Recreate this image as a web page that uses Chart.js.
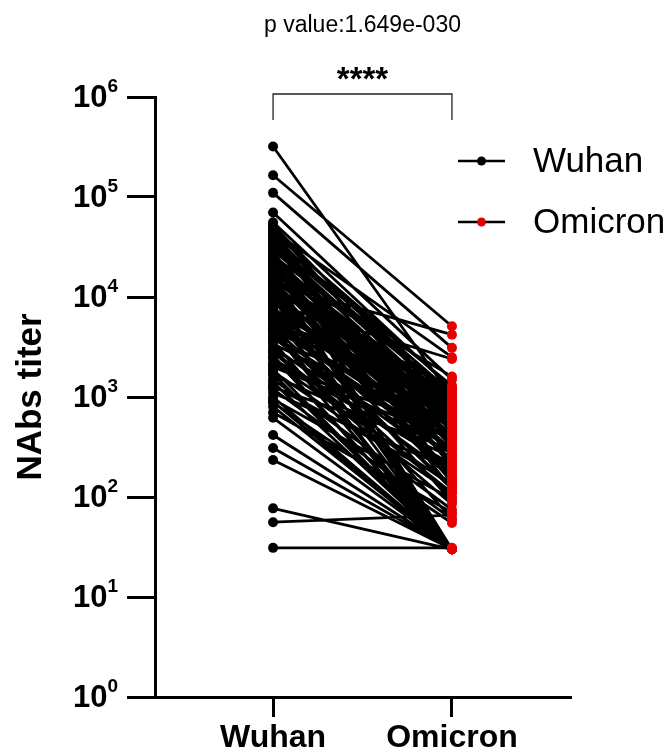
<!DOCTYPE html>
<html>
<head>
<meta charset="utf-8">
<script src="https://cdn.jsdelivr.net/npm/chart.js@4/dist/chart.umd.min.js"></script>
<style>
  html, body { margin: 0; padding: 0; background: #fff; }
  #wrap { width: 667px; height: 754px; }
</style>
</head>
<body>
<div id="wrap"><canvas id="nabs-chart"></canvas></div>
<script>
const categories = ['Wuhan', 'Omicron'];
const seriesNames = ['Wuhan', 'Omicron'];
const yTicks = [1, 10, 100, 1000, 10000, 100000, 1000000];
const pValueText = 'p value:1.649e-030';
const starsText = '****';
const yTitle = 'NAbs titer';

// paired titers, one entry per subject
const wuhan = [
  320000, 165000, 110000, 70000, 56000, 50000, 48000, 46000, 44000, 42000,
  39000, 37000, 36000, 34000, 33000, 31000, 30000, 29000, 27000, 26000,
  25000, 24000, 23000, 22000, 21000, 20500, 19500, 19000, 18000, 17500,
  17000, 16000, 15500, 15000, 14500, 14000, 13500, 13000, 12800, 12500,
  12000, 11500, 11200, 11000, 10500, 10000, 9800, 9500, 9200, 9000,
  8500, 8000, 7800, 7600, 7200, 6800, 6600, 6400, 6000, 5800,
  5600, 5300, 5000, 4900, 4700, 4400, 4100, 3900, 3600, 3400,
  3200, 3000, 2800, 2600, 2400, 2200, 2000, 1900, 1800, 1650,
  1500, 1400, 1300, 1200, 1100, 1000, 950, 880, 800, 700,
  620, 417, 309, 234, 77, 56, 31,
  52000, 40000, 35000, 28000, 24500, 21500, 18500, 16500, 14800, 13200,
  11800, 10200, 8800, 7000, 6200, 5100, 4500, 3800, 2900, 2500,
  2100, 1700, 1250, 900
];
const omicron = [
  1000, 5100, 3100, 1500, 1200, 900, 600, 2500, 1250, 700,
  1100, 1300, 550, 260, 800, 450, 700, 1000, 380, 1100,
  650, 350, 30, 900, 520, 320, 800, 1600, 500, 140,
  260, 750, 1000, 30, 230, 420, 4200, 600, 680, 220,
  850, 340, 400, 30, 480, 180, 300, 700, 90, 290,
  2400, 150, 480, 560, 30, 400, 170, 120, 950, 650,
  240, 360, 30, 130, 520, 100, 300, 200, 30, 440,
  160, 270, 85, 30, 210, 130, 380, 30, 110, 250,
  75, 30, 140, 60, 190, 30, 95, 55, 30, 70,
  30, 30, 30, 30, 30, 66, 31,
  800, 150, 1000, 200, 600, 120, 900, 30, 700, 160,
  1200, 30, 350, 800, 60, 300, 30, 650, 110, 30,
  450, 30, 300, 30
];

const FONT = '"Liberation Sans", Arial, Helvetica, sans-serif';
const RED = '#e60000';

const pairLines = [];
wuhan.forEach((w, i) => {
  pairLines.push({ x: 0, y: w }, { x: 1, y: omicron[i] }, { x: 0.5, y: null });
});

const overlay = {
  id: 'overlay',
  afterDraw(chart) {
    const ctx = chart.ctx;
    const xs = chart.scales.x;
    const ys = chart.scales.y;
    const x0 = xs.getPixelForValue(0);
    const x1 = xs.getPixelForValue(1);
    ctx.save();
    ctx.fillStyle = '#000';

    // y tick labels as 10 with superscript exponent
    yTicks.forEach((v) => {
      const py = ys.getPixelForValue(v);
      const exp = String(Math.round(Math.log10(v)));
      ctx.textAlign = 'right';
      ctx.textBaseline = 'middle';
      ctx.font = 'bold 19px ' + FONT;
      const ew = ctx.measureText(exp).width;
      ctx.fillText(exp, 118, py - 10);
      ctx.font = 'bold 31px ' + FONT;
      ctx.fillText('10', 118 - ew, py + 1);
    });

    // y axis title
    ctx.save();
    ctx.translate(31, (ys.top + ys.bottom) / 2);
    ctx.rotate(-Math.PI / 2);
    ctx.textAlign = 'center';
    ctx.textBaseline = 'middle';
    ctx.font = 'bold 35px ' + FONT;
    ctx.fillText(yTitle, 0, 0);
    ctx.restore();

    // p value + significance bracket
    const mid = (x0 + x1) / 2;
    ctx.textAlign = 'center';
    ctx.textBaseline = 'middle';
    ctx.font = '23px ' + FONT;
    ctx.fillText(pValueText, mid, 26);
    ctx.textBaseline = 'alphabetic';
    ctx.font = 'bold 33px ' + FONT;
    ctx.fillText(starsText, mid, 90);
    ctx.strokeStyle = '#222';
    ctx.lineWidth = 1.3;
    ctx.beginPath();
    ctx.moveTo(x0, 120);
    ctx.lineTo(x0, 94);
    ctx.lineTo(x1, 94);
    ctx.lineTo(x1, 120);
    ctx.stroke();

    // legend
    const legendY = [161, 222];
    const legendColors = ['#000', RED];
    seriesNames.forEach((name, i) => {
      const ly = legendY[i];
      ctx.strokeStyle = '#000';
      ctx.lineWidth = 2.5;
      ctx.beginPath();
      ctx.moveTo(458, ly);
      ctx.lineTo(505, ly);
      ctx.stroke();
      ctx.fillStyle = legendColors[i];
      ctx.beginPath();
      ctx.arc(481.5, ly, 4.5, 0, Math.PI * 2);
      ctx.fill();
      ctx.fillStyle = '#000';
      ctx.textAlign = 'left';
      ctx.textBaseline = 'middle';
      ctx.font = '35px ' + FONT;
      ctx.fillText(name, 533, ly + 1);
    });
    ctx.restore();
  }
};

new Chart(document.getElementById('nabs-chart').getContext('2d'), {
  type: 'line',
  data: {
    datasets: [
      {
        label: 'pairs',
        data: pairLines,
        borderColor: '#000',
        borderWidth: 2.8,
        pointRadius: 0,
        spanGaps: false,
        fill: false,
        tension: 0,
        order: 3,
      },
      {
        label: seriesNames[0],
        data: wuhan.map((v) => ({ x: 0, y: v })),
        showLine: false,
        pointRadius: 5,
        pointBorderWidth: 0,
        pointBackgroundColor: '#000',
        order: 2,
      },
      {
        label: seriesNames[1],
        data: omicron.map((v) => ({ x: 1, y: v })),
        showLine: false,
        pointRadius: 5,
        pointBorderWidth: 0,
        pointBackgroundColor: RED,
        order: 1,
      },
    ],
  },
  options: {
    responsive: true,
    maintainAspectRatio: false,
    animation: false,
    devicePixelRatio: 1,
    layout: { padding: { top: 97, right: 97, left: 0, bottom: 0 } },
    plugins: { legend: { display: false }, tooltip: { enabled: false } },
    scales: {
      x: {
        type: 'linear',
        min: -0.66,
        max: 1.66,
        afterBuildTicks: (scale) => { scale.ticks = [{ value: 0 }, { value: 1 }]; },
        afterFit: (scale) => { scale.height = 57; },
        border: { display: true, width: 3, color: '#000' },
        grid: { drawOnChartArea: false, drawTicks: true, tickLength: 20, lineWidth: 3, color: '#000' },
        ticks: {
          autoSkip: false,
          maxRotation: 0,
          padding: 2,
          color: '#000',
          font: { family: FONT, size: 32, weight: 'bold' },
          callback: (v) => categories[v],
        },
      },
      y: {
        type: 'logarithmic',
        min: 1,
        max: 1000000,
        afterBuildTicks: (scale) => { scale.ticks = yTicks.map((v) => ({ value: v, major: true })); },
        afterFit: (scale) => { scale.width = 155; },
        border: { display: true, width: 3, color: '#000' },
        grid: { drawOnChartArea: false, drawTicks: true, tickLength: 28, lineWidth: 3, color: '#000' },
        ticks: { display: false },
      },
    },
  },
  plugins: [overlay],
});
</script>
</body>
</html>
